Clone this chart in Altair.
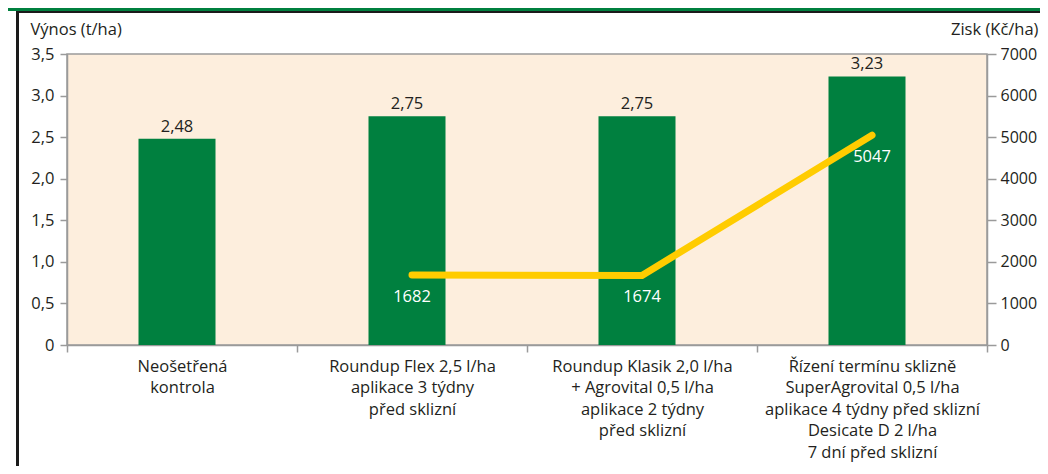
import altair as alt
import pandas as pd

categories = [
    "Neošetřená|kontrola",
    "Roundup Flex 2,5 l/ha|aplikace 3 týdny|před sklizní",
    "Roundup Klasik 2,0 l/ha|+ Agrovital 0,5 l/ha|aplikace 2 týdny|před sklizní",
    "Řízení termínu sklizně|SuperAgrovital 0,5 l/ha|aplikace 4 týdny před sklizní|Desicate D 2 l/ha|7 dní před sklizní",
]
yields = [2.48, 2.75, 2.75, 3.23]
profit = [None, 1682, 1674, 5047]
yield_ticks = [0, 0.5, 1.0, 1.5, 2.0, 2.5, 3.0, 3.5]
profit_ticks = [0, 1000, 2000, 3000, 4000, 5000, 6000, 7000]

df = pd.DataFrame({"cat": categories, "yld": yields, "profit": profit})

FONT = "Open Sans"
FS = 16.5
TXT = "#231f20"
GREEN = "#00803f"
YELLOW = "#ffcc00"
GRAY = "#9a9a9a"

x = alt.X(
    "cat:N",
    sort=categories,
    title=None,
    scale=alt.Scale(paddingInner=0, paddingOuter=0),
    axis=alt.Axis(
        labelExpr="split(datum.label, '|')",
        labelAngle=0,
        labelFontSize=FS,
        labelColor=TXT,
        labelLineHeight=21.5,
        labelPadding=6,
        labelBaseline="top",
        labelLimit=0,
        tickBand="extent",
        tickSize=7,
        tickColor=GRAY,
        domainColor=GRAY,
        domainWidth=1.5,
        tickWidth=1.5,
    ),
)

yscale = alt.Scale(domain=[0, 3.5], nice=False)
pscale = alt.Scale(domain=[0, 7000], nice=False)

bars = alt.Chart(df).mark_bar(color=GREEN, size=77, xOffset=-5).encode(
    x=x,
    y=alt.Y(
        "yld:Q",
        scale=yscale,
        axis=alt.Axis(
            values=yield_ticks,
            labelExpr="datum.value == 0 ? '0' : replace(format(datum.value, '.1f'), '.', ',')",
            title="Výnos (t/ha)",
            titleAngle=0,
            titleAlign="left",
            titleBaseline="middle",
            titleX=-37,
            titleY=-25,
            titleFontSize=FS,
            titleFontWeight="normal",
            titleColor=TXT,
            labelFontSize=FS,
            labelColor=TXT,
            labelPadding=6,
            tickSize=7,
            tickColor=GRAY,
            domainColor=GRAY,
            domainWidth=1.5,
            tickWidth=1.5,
            grid=False,
        ),
    ),
)

bar_labels = alt.Chart(df).transform_calculate(
    lbl="replace(format(datum.yld, '.2f'), '.', ',')"
).mark_text(dy=-4, dx=-5, fontSize=FS, color=TXT, baseline="bottom").encode(
    x=alt.X("cat:N", sort=categories),
    y=alt.Y("yld:Q", scale=yscale),
    text="lbl:N",
)

left = alt.layer(bars, bar_labels)

line_df = df.dropna(subset=["profit"])

py = alt.Y(
    "profit:Q",
    scale=pscale,
    axis=alt.Axis(
        orient="right",
        values=profit_ticks,
        format="d",
        title="Zisk (Kč/ha)",
        titleAngle=0,
        titleAlign="right",
        titleBaseline="middle",
        titleX=51,
        titleY=-25,
        titleFontSize=FS,
        titleFontWeight="normal",
        titleColor=TXT,
        labelFontSize=16,
        labelColor=TXT,
        labelPadding=4,
        tickSize=9,
        tickColor=GRAY,
        domainColor=GRAY,
        domainWidth=1.5,
        tickWidth=1.5,
        grid=False,
    ),
)

line = alt.Chart(line_df).mark_line(
    color=YELLOW, strokeWidth=7, strokeCap="round", strokeJoin="round"
).encode(x=alt.X("cat:N", sort=categories), y=py)

line_labels = alt.Chart(line_df).mark_text(
    dy=22, fontSize=FS, color="white", baseline="middle"
).encode(
    x=alt.X("cat:N", sort=categories),
    y=alt.Y("profit:Q", scale=pscale),
    text=alt.Text("profit:Q", format="d"),
)

right = alt.layer(line, line_labels)

deco_df = pd.DataFrame({"k": [0]})
header = alt.Chart(deco_df).mark_rect(color=GREEN).encode(
    x=alt.value(-60), x2=alt.value(990), y=alt.value(-47), y2=alt.value(-43)
)
header_line = alt.Chart(deco_df).mark_rect(color="#1a1a1a").encode(
    x=alt.value(-51), x2=alt.value(990), y=alt.value(-43), y2=alt.value(-41)
)
border = alt.Chart(deco_df).mark_rect(color="#1a1a1a").encode(
    x=alt.value(-51), x2=alt.value(-48), y=alt.value(-43), y2=alt.value(420)
)

chart = (
    alt.layer(left, right, header, header_line, border)
    .resolve_scale(y="independent")
    .properties(
        width=920,
        height=291,
        padding={"left": 59, "top": 46, "right": 53, "bottom": 121},
        autosize=alt.AutoSizeParams(type="none"),
        background="white",
    )
    .configure(font=FONT)
    .configure_view(fill="#fdeedd", stroke=GRAY, strokeWidth=1.5)
)

chart.save("out.html", embed_options={"renderer": "svg", "actions": False})
